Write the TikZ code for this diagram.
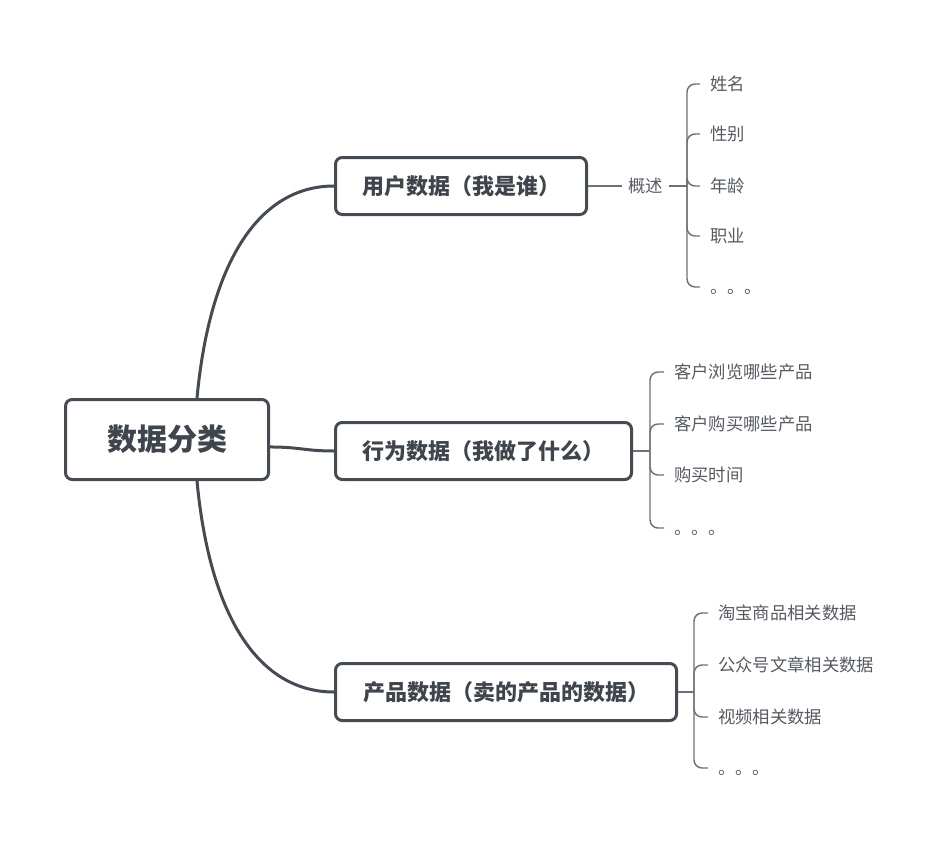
\documentclass[tikz,border=0pt]{standalone}
\usepackage{fontspec}
\setmainfont{Noto Sans CJK SC}
\definecolor{boxc}{HTML}{454B53}
\definecolor{txtc}{HTML}{3F454C}
\definecolor{leafc}{HTML}{555A61}
\definecolor{linec}{HTML}{6C7178}
\newcommand{\lowdots}{\raisebox{-4.5pt}[0pt][0pt]{。。。}}
\begin{document}
\begin{tikzpicture}[x=0.75pt,y=-0.75pt,
  rootbox/.style={draw=boxc, line width=2.25pt, rounded corners=5pt, fill=white, text=txtc,
    font=\fontsize{22.5}{26}\selectfont\bfseries, minimum width=152.25pt, minimum height=60pt, inner sep=0pt},
  brbox/.style={draw=boxc, line width=2.25pt, rounded corners=5pt, fill=white, text=txtc,
    font=\fontsize{16.5}{19}\selectfont\bfseries, minimum height=42.75pt, inner sep=0pt},
  mainline/.style={draw=boxc, line width=2.25pt},
  leafline/.style={draw=linec, line width=1.1pt, rounded corners=6pt},
  leaf/.style={text=leafc, font=\fontsize{13}{15}\selectfont, inner xsep=7.5pt, inner ysep=2pt, anchor=west}
]
\useasboundingbox (0,0) rectangle (945,853);

% main nodes
\node[rootbox] (root) at (167,439.5) {数据分类};
\node[brbox, minimum width=188.25pt] (b1) at (461,186) {用户数据（我是谁）};
\node[brbox, minimum width=222pt] (b2) at (483.5,451) {行为数据（我做了什么）};
\node[brbox, minimum width=255.75pt] (b3) at (506,692) {产品数据（卖的产品的数据）};

% main connectors
\draw[mainline] ([xshift=22.5pt]root.north) .. controls (210,260) and (260,186) .. (b1.west);
\draw[mainline] ([xshift=22.5pt]root.south) .. controls (210,619) and (260,692) .. (b3.west);
\draw[mainline] ([yshift=-5.6pt]root.east) .. controls (300,447) and (305,451) .. (b2.west);

% section 1
\node[text=leafc, font=\fontsize{13}{15}\selectfont, inner xsep=4.5pt] (gs) at (645.5,186) {概述};
\draw[leafline] (b1.east) -- (gs.west);
\coordinate (h1) at (687,186);
\draw[leafline] (gs.east) -- (h1);
\node[leaf] (l11) at (700,84) {姓名};
\node[leaf] (l12) at (700,134) {性别};
\node[leaf] (l13) at (700,186) {年龄};
\node[leaf] (l14) at (700,236) {职业};
\node[leaf] (l15) at (700,287) {\lowdots};
\foreach \n in {l11,l12,l13,l14,l15} \draw[leafline] (h1) |- (\n.west);

% section 2
\coordinate (h2) at (650,451);
\draw[leafline] (b2.east) -- (h2);
\node[leaf] (l21) at (664,372) {客户浏览哪些产品};
\node[leaf] (l22) at (664,424) {客户购买哪些产品};
\node[leaf] (l23) at (664,475) {购买时间};
\node[leaf] (l24) at (664,528) {\lowdots};
\foreach \n in {l21,l22,l23,l24} \draw[leafline] (h2) |- (\n.west);

% section 3
\coordinate (h3) at (694,692);
\draw[leafline] (b3.east) -- (h3);
\node[leaf] (l31) at (708,613) {淘宝商品相关数据};
\node[leaf] (l32) at (708,665) {公众号文章相关数据};
\node[leaf] (l33) at (708,717) {视频相关数据};
\node[leaf] (l34) at (708,768) {\lowdots};
\foreach \n in {l31,l32,l33,l34} \draw[leafline] (h3) |- (\n.west);
\end{tikzpicture}
\end{document}
